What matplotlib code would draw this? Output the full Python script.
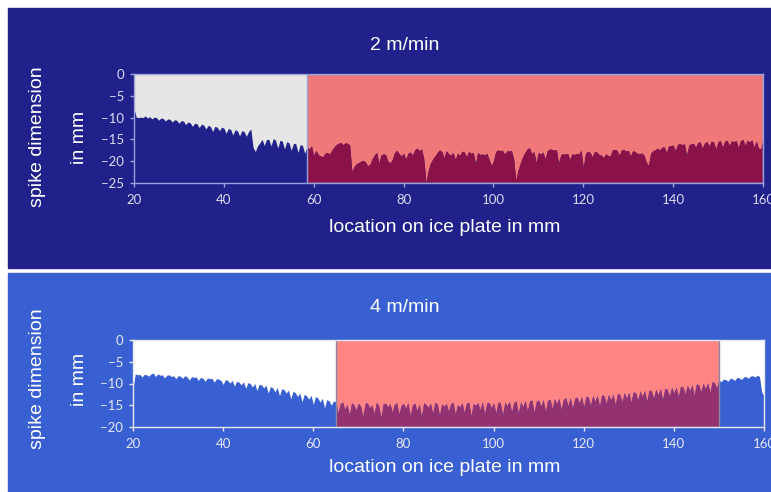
import numpy as np
import matplotlib
matplotlib.use("Agg")
import matplotlib.pyplot as plt
from matplotlib.patches import Rectangle

# sample grid of the profiles, 0.5 mm steps from 20 to 160 mm
location = np.arange(20.0, 160.25, 0.5)

# spike dimension (mm) at 2 m/min, one row per 10 mm
spikes_2 = [
    -8.0, -9.9, -10.0, -9.9, -10.0, -9.6, -10.1, -9.8, -10.3, -9.9, -10.0, -10.6, -10.1, -10.2, -10.8, -10.3, -10.4, -11.0, -10.5, -10.6,
    -11.3, -10.7, -10.8, -11.6, -11.0, -11.2, -12.0, -11.3, -11.4, -12.3, -11.5, -11.7, -12.6, -11.8, -12.0, -13.2, -12.0, -12.2, -13.0, -12.2,
    -12.4, -13.6, -12.5, -12.7, -14.0, -12.8, -13.0, -14.2, -13.0, -13.2, -14.3, -13.2, -12.6, -16.8, -17.8, -16.5, -15.8, -15.0, -16.4, -15.0,
    -15.0, -16.5, -14.8, -15.2, -17.0, -15.2, -15.4, -17.2, -15.5, -15.8, -17.5, -15.9, -16.0, -18.0, -16.2, -16.4, -18.2, -16.7, -17.2, -16.5,
    -18.7, -17.5, -18.5, -18.8, -19.0, -18.2, -18.0, -18.4, -17.5, -16.8, -16.2, -15.9, -15.7, -16.2, -15.8, -15.9, -16.3, -22.4, -21.2, -20.6,
    -20.3, -20.0, -19.8, -20.2, -21.0, -20.8, -19.5, -18.6, -18.0, -20.4, -18.6, -18.3, -18.5, -20.0, -20.4, -19.6, -18.0, -17.5, -18.3, -18.8,
    -18.2, -19.5, -18.2, -17.9, -18.6, -17.4, -17.0, -17.6, -17.2, -19.5, -25.0, -22.0, -20.4, -19.5, -18.8, -18.0, -17.4, -17.8, -19.2, -17.6,
    -18.3, -18.6, -18.0, -19.6, -18.2, -18.7, -17.7, -17.9, -19.0, -17.7, -18.2, -18.0, -20.5, -18.0, -18.5, -18.3, -18.6, -18.2, -19.5, -21.0,
    -20.0, -17.8, -17.4, -17.6, -17.5, -18.4, -17.6, -17.7, -17.5, -19.5, -24.4, -22.0, -20.4, -19.0, -18.0, -17.2, -16.9, -18.3, -17.8, -20.3,
    -18.0, -18.4, -17.9, -19.5, -17.6, -17.2, -17.3, -17.5, -17.3, -20.4, -18.5, -18.3, -18.4, -18.2, -19.6, -18.3, -18.5, -18.2, -18.4, -17.5,
    -21.5, -18.2, -17.7, -18.0, -19.0, -17.8, -17.9, -18.5, -18.6, -19.2, -18.3, -18.7, -18.8, -17.4, -17.3, -17.5, -18.6, -17.4, -17.3, -17.7,
    -17.5, -18.8, -17.6, -17.8, -18.2, -18.3, -18.1, -18.6, -20.2, -21.0, -18.2, -17.6, -17.4, -17.0, -17.5, -16.8, -16.7, -18.0, -16.5, -16.4,
    -16.3, -17.6, -16.1, -16.0, -16.2, -16.0, -18.6, -16.3, -16.0, -15.9, -16.8, -15.7, -15.6, -17.0, -15.8, -15.5, -16.5, -15.4, -15.6, -17.2,
    -15.5, -15.3, -16.8, -15.4, -15.2, -16.4, -15.3, -15.6, -15.2, -16.9, -15.3, -15.0, -16.3, -15.2, -15.6, -15.1, -16.8, -15.4, -17.0, -17.2,
    -15.0,
]

# spike dimension (mm) at 4 m/min
spikes_4 = [
    -11.0, -7.8, -8.0, -7.9, -8.5, -7.9, -8.0, -8.3, -7.8, -7.6, -8.4, -7.8, -8.1, -8.0, -8.7, -8.1, -8.0, -8.4, -8.2, -8.9,
    -8.2, -8.3, -8.8, -8.2, -8.5, -9.2, -8.4, -8.6, -8.5, -9.3, -8.6, -8.8, -9.5, -8.7, -8.9, -8.8, -9.7, -8.9, -9.0, -9.3,
    -10.2, -9.1, -9.3, -9.9, -9.3, -10.6, -9.5, -9.7, -10.3, -9.6, -11.1, -9.8, -10.0, -10.8, -10.0, -11.6, -10.2, -10.3, -11.0, -10.4,
    -12.2, -10.7, -11.0, -11.9, -10.9, -12.8, -11.2, -11.4, -12.2, -11.5, -13.5, -11.8, -12.1, -13.0, -12.2, -14.2, -12.5, -12.8, -13.6, -12.7,
    -14.8, -13.0, -13.3, -14.3, -13.4, -15.6, -13.7, -14.0, -15.0, -14.0, -14.2, -16.8, -14.6, -14.3, -15.9, -14.8, -17.2, -14.4, -14.9, -16.1,
    -14.5, -15.2, -17.5, -14.6, -14.4, -15.6, -14.9, -16.9, -14.3, -15.1, -17.8, -14.7, -14.5, -15.4, -14.6, -16.6, -14.8, -14.4, -17.0, -15.0,
    -14.6, -15.7, -14.4, -17.4, -14.9, -14.5, -16.2, -14.7, -17.6, -14.4, -14.8, -15.5, -14.5, -16.9, -14.3, -14.7, -17.3, -14.6, -15.3, -14.5,
    -16.4, -14.6, -14.3, -17.1, -14.8, -15.4, -14.4, -16.7, -14.5, -14.3, -17.4, -14.6, -15.0, -14.4, -16.0, -14.2, -17.0, -14.5, -14.3, -15.6,
    -14.4, -16.8, -14.2, -14.5, -17.2, -14.3, -15.1, -14.1, -16.5, -14.3, -14.0, -16.9, -14.2, -15.3, -13.9, -16.2, -14.0, -13.8, -16.6, -14.1,
    -13.8, -15.2, -13.7, -16.4, -13.9, -13.6, -15.8, -13.5, -14.6, -13.4, -16.0, -13.6, -13.3, -15.1, -13.2, -15.7, -13.4, -13.1, -14.5, -13.0,
    -15.4, -12.9, -13.1, -15.0, -12.8, -14.1, -12.7, -15.2, -12.6, -12.8, -14.6, -12.5, -13.8, -12.4, -14.9, -12.3, -12.5, -14.2, -12.1, -13.4,
    -12.0, -14.3, -11.9, -12.1, -13.8, -11.7, -13.0, -11.6, -14.1, -11.5, -11.7, -13.4, -11.3, -12.6, -11.2, -13.7, -11.1, -11.3, -12.9, -10.9,
    -12.2, -10.8, -13.1, -10.6, -10.8, -12.4, -10.4, -11.6, -10.3, -12.7, -10.1, -10.3, -11.9, -9.9, -11.2, -9.8, -12.0, -9.6, -9.8, -11.0,
    -9.2, -9.6, -9.0, -9.1, -9.5, -8.8, -8.9, -9.3, -8.6, -8.7, -9.1, -8.5, -8.4, -8.8, -8.3, -8.2, -8.5, -8.1, -8.4, -12.0,
    -12.8,
]

titles = ["2 m/min", "4 m/min"]
marked = [(58.4, 160.0), (65.0, 150.0)]
y_bottom = [-25, -20]
x_ticks = [20, 40, 60, 80, 100, 120, 140, 160]

W, H = 771, 492
fig = plt.figure(figsize=(W / 100, H / 100), dpi=100)
fig.patch.set_facecolor("white")

def fx(px):
    return px / W

def fy(py):
    return 1 - py / H

navy = "#20218a"
blue = "#3860d2"

# panel backgrounds, kept behind the axes
fig.patches.append(Rectangle((fx(8), fy(268)), 1 - fx(8), fy(8) - fy(268),
                             transform=fig.transFigure, color=navy, zorder=-10))
fig.patches.append(Rectangle((fx(8), 0), 1 - fx(8), fy(273),
                             transform=fig.transFigure, color=blue, zorder=-10))

panels = [
    dict(data=spikes_2, box=(134, 74, 763, 183), bg=navy, plot_bg="#e6e6e6",
         red="#f07878", dark="#8a1248", spine="#9aa2dc", tick="#dcdcf0",
         title_y=45, xlabel_y=228, ylab_y=137),
    dict(data=spikes_4, box=(133, 340, 764, 427), bg=blue, plot_bg="white",
         red="#ff8585", dark="#943170", spine="#e8e8f4", tick="#e8e8f4",
         title_y=307, xlabel_y=468, ylab_y=379),
]

font = "Liberation Sans"
for i, p in enumerate(panels):
    l, t, r, b = p["box"]
    ax = fig.add_axes([fx(l), fy(b), fx(r) - fx(l), fy(t) - fy(b)])
    ax.set_facecolor(p["plot_bg"])
    lo, hi = marked[i]
    y = np.array(p["data"])
    ax.fill_between(location, y, y_bottom[i], color=p["bg"], lw=0, zorder=2)
    rect = Rectangle((lo, y_bottom[i]), hi - lo, -y_bottom[i], facecolor=p["red"],
                     edgecolor="none", zorder=1)
    ax.add_patch(rect)
    dark = ax.fill_between(location, y, y_bottom[i], color=p["dark"], lw=0, zorder=3)
    dark.set_clip_path(rect)
    edge = Rectangle((lo, y_bottom[i]), hi - lo, -y_bottom[i], facecolor="none",
                     edgecolor=p["spine"] if i == 0 else "#8a8aa8", lw=1, zorder=4)
    ax.add_patch(edge)

    ax.set_xlim(20, 160)
    ax.set_ylim(y_bottom[i], 0)
    ax.set_xticks(x_ticks)
    ax.set_yticks(range(y_bottom[i], 1, 5))
    for s in ax.spines.values():
        s.set_color(p["spine"])
        s.set_linewidth(1)
        s.set_zorder(5)
    ax.tick_params(colors=p["spine"], length=3, width=1, labelcolor=p["tick"])
    ax.tick_params(axis="x", pad=5)
    ax.tick_params(axis="y", pad=4)
    for lab in ax.get_xticklabels() + ax.get_yticklabels():
        lab.set_fontfamily("Lato")
        lab.set_fontsize(9.5)

    fig.text(fx(405), fy(p["title_y"]), titles[i], color="white", fontsize=14,
             family=font, ha="center", va="center")
    fig.text(fx(445), fy(p["xlabel_y"]), "location on ice plate in mm", color="white",
             fontsize=14, family=font, ha="center", va="center")
    fig.text(fx(37), fy(p["ylab_y"]), "spike dimension", color="white", fontsize=14,
             family=font, ha="center", va="center", rotation=90)
    fig.text(fx(79), fy(p["ylab_y"]), "in mm", color="white", fontsize=14,
             family=font, ha="center", va="center", rotation=90)

fig.savefig("out.png", dpi=100, facecolor=fig.get_facecolor())
